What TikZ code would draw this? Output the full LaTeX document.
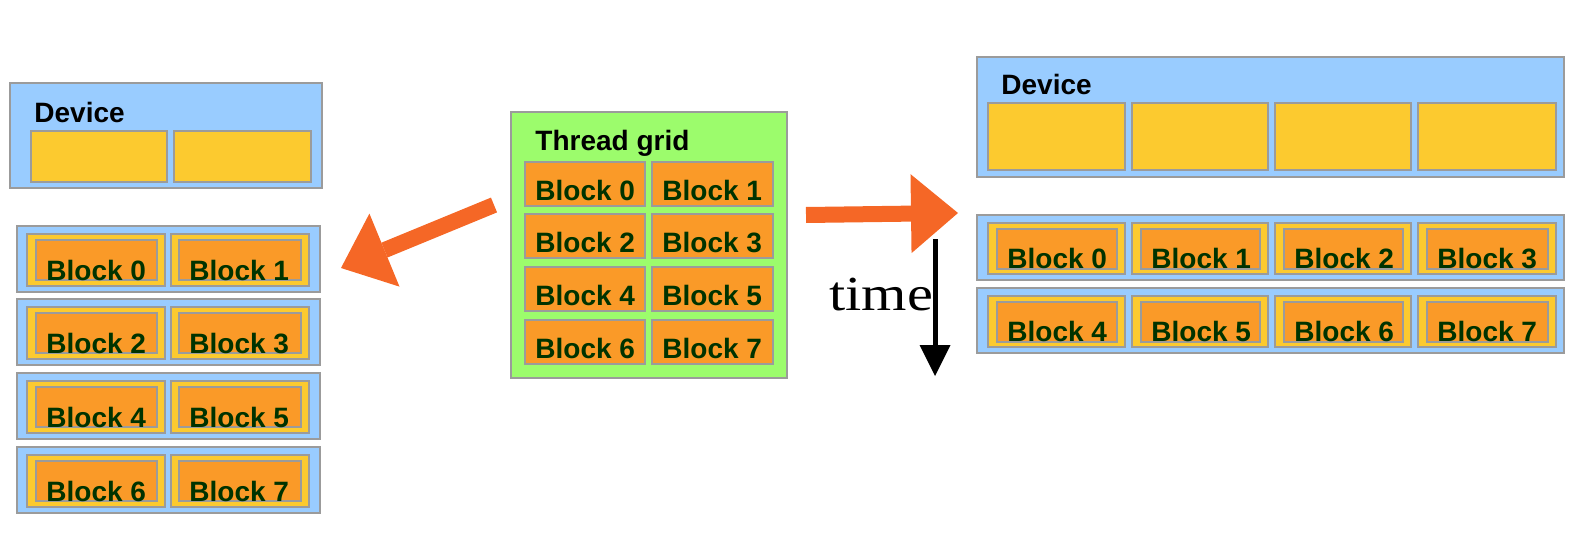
\documentclass[tikz,border=0pt]{standalone}
\usepackage{fontspec}
\setmainfont{Liberation Sans}
\newfontfamily\serifT{Liberation Serif}
\usetikzlibrary{arrows.meta,fit,calc}
\definecolor{boxgrey}{HTML}{9B9B9B}
\definecolor{devblue}{HTML}{99CCFF}
\definecolor{smyellow}{HTML}{FCCA2F}
\definecolor{blkorange}{HTML}{FA9A28}
\definecolor{gridgreen}{HTML}{9CFC6C}
\definecolor{blkgreen}{HTML}{003300}
\definecolor{arroworange}{HTML}{F56726}
\begin{document}
\begin{tikzpicture}[x=0.5pt,y=-0.5pt,
  box/.style={draw=boxgrey, line width=1pt, inner sep=0pt},
  devbox/.style={box, fill=devblue},
  smbox/.style={box, fill=smyellow},
  blkbox/.style={box, fill=blkorange},
  gridbox/.style={box, fill=gridgreen},
  blktext/.style={font=\fontsize{14pt}{16pt}\selectfont\bfseries, text=blkgreen, inner sep=0pt, anchor=base west},
  titletext/.style={font=\fontsize{14pt}{16pt}\selectfont\bfseries, text=black, inner sep=0pt, anchor=base west},
  timetext/.style={font=\serifT\fontsize{24.5pt}{28pt}\selectfont, text=black, inner sep=0pt, anchor=base west},
  bigarrow/.style={draw=arroworange, line width=8pt, -{Triangle[length=23.5pt,width=39.5pt,line width=0pt]}},
  timearrow/.style={draw=black, line width=2.5pt, -{Triangle[length=15.5pt,width=15.5pt,line width=0pt]}}
]
\useasboundingbox (0,0) rectangle (1584,540);

% ---------- left: device with 2 SMs ----------
\node[devbox, fit={(10,83) (322,188)}] (ldev) {};
\node[titletext] (ldevt) at (34,123) {Device};
\node[smbox, fit={(31,131) (167,182)}] (lsm0) {};
\node[smbox, fit={(174,131) (311,182)}] (lsm1) {};

\foreach \r/\tp in {0/226,1/299,2/373,3/447} {
  \node[devbox, fit={(17,\tp) (320,{\tp+66})}] (lrow\r) {};
  \foreach \c/\ya/\yb/\oa/\ob in {0/27/165/36/157, 1/171/309/179/301} {
    \pgfmathtruncatemacro\n{2*\r+\c}
    \node[smbox, fit={(\ya,{\tp+8}) (\yb,{\tp+60})}] (lsmb\n) {};
    \node[blkbox, fit={(\oa,{\tp+14}) (\ob,{\tp+54})}] (lblk\n) {};
    \node[blktext] (lblkt\n) at ({\oa+10},{\tp+54}) {Block \n};
  }
}

% ---------- middle: thread grid ----------
\node[gridbox, fit={(511,112) (787,378)}] (grid) {};
\node[titletext] (gridt) at (535,150) {Thread grid};
\foreach \r/\ya/\yb in {0/162/206, 1/214/258, 2/267/311, 3/320/364} {
  \foreach \c/\xa/\xb in {0/525/645, 1/652/773} {
    \pgfmathtruncatemacro\n{2*\r+\c}
    \node[blkbox, fit={(\xa,\ya) (\xb,\yb)}] (gblk\n) {};
    \node[blktext] (gblkt\n) at ({\xa+10},{\yb-6}) {Block \n};
  }
}

% ---------- right: device with 4 SMs ----------
\node[devbox, fit={(977,57) (1564,177)}] (rdev) {};
\node[titletext] (rdevt) at (1001,95) {Device};
\foreach \c/\xa/\xb in {0/988/1125, 1/1132/1268, 2/1275/1411, 3/1418/1556} {
  \node[smbox, fit={(\xa,103) (\xb,170)}] (rsm\c) {};
}
\foreach \r/\tp in {0/215,1/288} {
  \node[devbox, fit={(977,\tp) (1564,{\tp+65})}] (rrow\r) {};
  \foreach \c/\xa/\xb in {0/988/1125, 1/1132/1268, 2/1275/1411, 3/1418/1556} {
    \pgfmathtruncatemacro\n{4*\r+\c}
    \node[smbox, fit={(\xa,{\tp+8}) (\xb,{\tp+59})}] (rsmb\n) {};
    \node[blkbox, fit={({\xa+9},{\tp+14}) ({\xb-8},{\tp+54})}] (rblk\n) {};
    \node[blktext] (rblkt\n) at ({\xa+19},{\tp+53}) {Block \n};
  }
}

% ---------- arrows ----------
\coordinate (la0) at (494,205);
\coordinate (la1) at (341,268);
\draw[bigarrow] (la0) -- (la1);
\coordinate (ra0) at (806,215);
\coordinate (ra1) at (958,213);
\draw[bigarrow] (ra0) -- (ra1);

\node[timetext] (time) at (829,310) {\scalebox{1.19}[1]{time}};
\coordinate (t0) at (935,239);
\coordinate (t1) at (935,376);
\draw[timearrow] (t0) -- (t1);
\end{tikzpicture}
\end{document}
